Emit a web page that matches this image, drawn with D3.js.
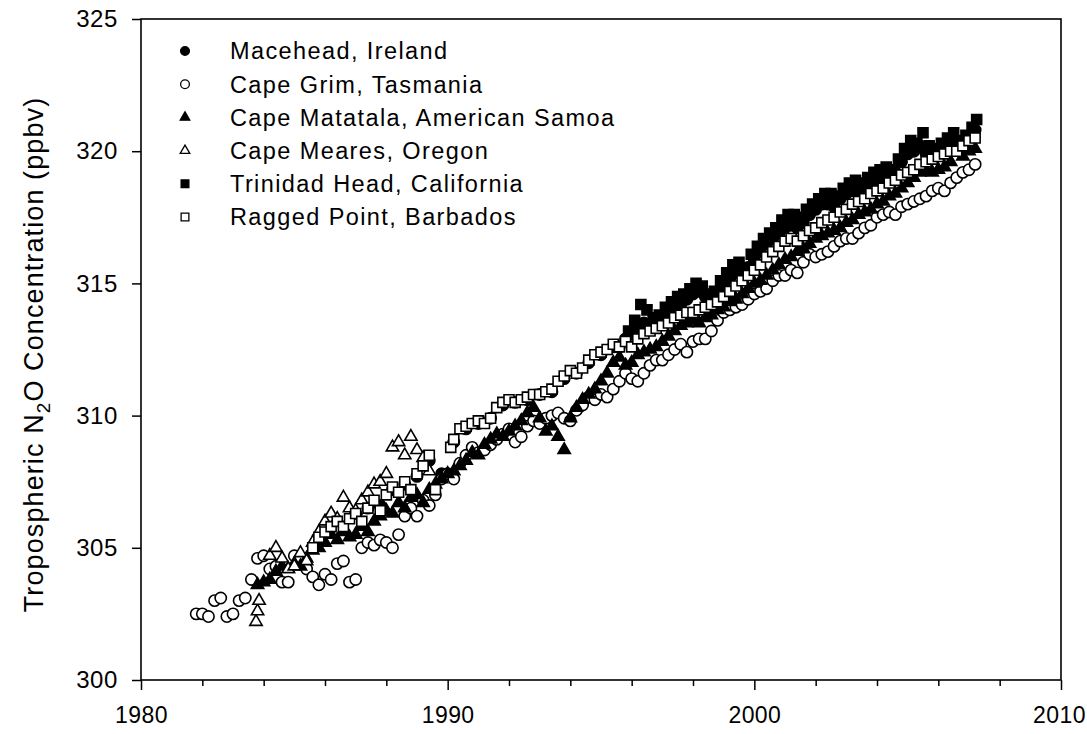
<!DOCTYPE html>
<html>
<head>
<meta charset="utf-8">
<script src="https://cdn.jsdelivr.net/npm/d3@7"></script>
<style>
  body { margin: 0; background: #fff; }
  svg { display: block; }
  text { font-family: "Liberation Sans", Arial, sans-serif; fill: #000; }
</style>
</head>
<body>
<svg id="chart"></svg>
<script>
// Tropospheric N2O at six AGAGE / ALE-GAGE stations
// each entry: [decimal year, ppbv]

const maceHead = [
  [1987.0,306.3],[1987.4,306.5],[1987.8,306.6],[1988.2,307.2],[1988.6,307.4],[1989.0,307.7],
  [1989.4,308.3],[1989.8,307.8],[1990.2,309.0],[1990.6,309.5],[1991.0,309.7],[1991.4,309.9],
  [1991.8,310.4],[1992.2,310.5],[1992.6,310.6],[1993.0,310.8],[1993.4,310.9],[1993.8,311.4],
  [1994.2,311.6],[1994.6,312.0],[1995.0,312.3],[1995.4,312.6],
  [1995.6,312.6],[1995.8,312.9],[1996.0,313.1],[1996.2,313.3],[1996.4,313.5],[1996.6,313.4],
  [1996.8,313.5],[1997.0,313.7],[1997.2,313.9],[1997.4,314.0],[1997.6,314.2],[1997.8,314.4],
  [1998.0,314.6],[1998.2,314.7],[1998.4,314.5],[1998.6,314.4],[1998.8,314.6],[1999.0,314.9],
  [1999.2,315.2],[1999.4,315.4],[1999.6,315.3],[1999.8,315.6],[2000.0,315.9],[2000.2,316.2],
  [2000.4,316.5],[2000.6,316.7],[2000.8,316.9],[2001.0,317.1],[2001.2,317.2],[2001.4,317.1],
  [2001.6,317.3],[2001.8,317.6],[2002.0,317.8],[2002.2,318.0],[2002.4,318.0],[2002.6,317.9],
  [2002.8,318.2],[2003.0,318.4],[2003.2,318.5],[2003.4,318.4],[2003.6,318.6],[2003.8,318.8],
  [2004.0,318.9],[2004.2,319.0],[2004.4,318.9],[2004.6,319.2],[2004.8,319.6],[2005.0,319.9],
  [2005.2,320.0],[2005.4,320.2],[2005.6,319.9],[2005.8,319.8],[2006.0,320.0],[2006.2,320.1],
  [2006.4,320.3],[2006.6,320.1],[2006.8,320.2],[2007.0,320.5],[2007.2,320.8]
];

const capeGrim = [
  [1981.8,302.5],[1982.0,302.5],[1982.2,302.4],[1982.4,303.0],[1982.6,303.1],[1982.8,302.4],
  [1983.0,302.5],[1983.2,303.0],[1983.4,303.1],[1983.6,303.8],[1983.8,304.6],
  [1984.0,304.7],[1984.2,304.2],[1984.4,304.3],[1984.6,303.7],[1984.8,303.7],
  [1985.0,304.7],[1985.2,304.6],[1985.4,304.2],[1985.6,303.9],[1985.8,303.6],
  [1986.0,304.0],[1986.2,303.8],[1986.4,304.4],[1986.6,304.5],[1986.8,303.7],
  [1987.0,303.8],[1987.2,305.0],[1987.4,305.2],[1987.6,305.1],[1987.8,305.3],
  [1988.0,305.2],[1988.2,305.0],[1988.4,305.5],[1988.6,306.2],[1988.8,306.5],
  [1989.0,306.2],[1989.2,306.8],[1989.4,306.6],[1989.6,307.0],[1989.8,307.6],
  [1990.0,307.8],[1990.2,307.6],[1990.4,308.2],[1990.6,308.5],[1990.8,308.8],
  [1991.0,308.6],[1991.2,308.7],[1991.4,308.9],[1991.6,309.1],[1991.8,309.3],
  [1992.0,309.5],[1992.2,309.0],[1992.4,309.2],[1992.6,309.6],[1992.8,309.8],
  [1993.0,309.7],[1993.2,309.9],[1993.4,310.0],[1993.6,310.1],[1993.8,309.9],
  [1994.0,309.8],[1994.2,310.2],[1994.4,310.4],[1994.6,310.7],[1994.8,310.6],
  [1995.0,310.8],[1995.2,310.7],[1995.4,311.0],[1995.6,311.3],[1995.8,311.6],
  [1996.0,311.4],[1996.2,311.3],[1996.4,311.6],[1996.6,311.9],[1996.8,312.1],
  [1997.0,312.1],[1997.2,312.3],[1997.4,312.5],[1997.6,312.7],[1997.8,312.4],
  [1998.0,312.8],[1998.2,312.9],[1998.4,312.9],[1998.6,313.2],[1998.8,313.6],
  [1999.0,313.9],[1999.2,314.0],[1999.4,314.1],[1999.6,314.2],[1999.8,314.4],
  [2000.0,314.6],[2000.2,314.7],[2000.4,314.8],[2000.6,315.1],[2000.8,315.3],
  [2001.0,315.3],[2001.2,315.5],[2001.4,315.4],[2001.6,315.8],[2001.8,316.1],
  [2002.0,316.0],[2002.2,316.1],[2002.4,316.2],[2002.6,316.4],[2002.8,316.6],
  [2003.0,316.7],[2003.2,316.7],[2003.4,316.9],[2003.6,317.1],[2003.8,317.2],
  [2004.0,317.5],[2004.2,317.6],[2004.4,317.7],[2004.6,317.6],[2004.8,317.9],
  [2005.0,318.0],[2005.2,318.1],[2005.4,318.2],[2005.6,318.3],[2005.8,318.5],
  [2006.0,318.6],[2006.2,318.5],[2006.4,318.8],[2006.6,319.0],[2006.8,319.2],
  [2007.0,319.3],[2007.2,319.5]
];

const capeMatatala = [
  [1983.8,303.6],[1984.0,303.7],[1984.2,303.8],[1984.4,304.1],[1984.6,304.3],[1984.8,304.2],
  [1985.0,304.4],[1985.2,304.3],[1985.4,304.6],[1985.6,304.9],[1985.8,305.0],
  [1986.0,305.2],[1986.2,305.5],[1986.4,305.3],[1986.6,305.6],[1986.8,305.4],
  [1987.0,305.5],[1987.2,305.8],[1987.4,305.6],[1987.6,306.0],[1987.8,306.2],
  [1988.0,306.4],[1988.2,306.3],[1988.4,306.7],[1988.6,306.5],[1988.8,306.9],
  [1989.0,307.0],[1989.2,306.7],[1989.4,307.2],[1989.6,307.4],[1989.8,307.6],
  [1990.0,307.8],[1990.2,307.9],[1990.4,308.1],[1990.6,308.3],[1990.8,308.6],
  [1991.0,308.5],[1991.2,308.9],[1991.4,309.1],[1991.6,309.3],[1991.8,309.2],
  [1992.0,309.4],[1992.2,309.6],[1992.4,309.8],[1992.6,310.1],[1992.8,310.3],
  [1993.0,309.9],[1993.2,309.4],[1993.4,309.6],[1993.6,309.2],[1993.8,308.7],
  [1994.0,309.9],[1994.2,310.3],[1994.4,310.6],[1994.6,310.8],[1994.8,311.0],
  [1995.0,311.3],[1995.2,311.6],[1995.4,312.0],[1995.6,312.2],[1995.8,311.9],
  [1996.0,312.0],[1996.2,312.3],[1996.4,312.4],[1996.6,312.5],[1996.8,312.6],
  [1997.0,312.8],[1997.2,313.0],[1997.4,313.2],[1997.6,313.4],[1997.8,313.5],
  [1998.0,313.6],[1998.2,313.5],[1998.4,313.7],[1998.6,313.8],[1998.8,314.0],
  [1999.0,314.1],[1999.2,314.3],[1999.4,314.4],[1999.6,314.6],[1999.8,314.8],
  [2000.0,315.0],[2000.2,315.1],[2000.4,315.3],[2000.6,315.5],[2000.8,315.7],
  [2001.0,315.9],[2001.2,316.0],[2001.4,316.2],[2001.6,316.3],[2001.8,316.5],
  [2002.0,316.7],[2002.2,316.8],[2002.4,316.9],[2002.6,317.0],[2002.8,317.1],
  [2003.0,317.3],[2003.2,317.4],[2003.4,317.6],[2003.6,317.7],[2003.8,317.8],
  [2004.0,318.0],[2004.2,318.1],[2004.4,318.3],[2004.6,318.4],[2004.8,318.6],
  [2005.0,318.8],[2005.2,319.0],[2005.4,319.2],[2005.6,319.3],[2005.8,319.2],
  [2006.0,319.3],[2006.2,319.4],[2006.4,319.6],[2006.8,319.8],[2007.0,320.0],[2007.2,320.1]
];

const capeMeares = [
  [1983.75,302.2],[1983.8,302.6],[1983.85,303.0],[1984.2,304.7],[1984.4,305.0],[1984.6,304.6],
  [1984.8,304.2],[1985.0,304.3],[1985.2,304.8],[1985.4,304.5],[1985.6,305.2],[1985.8,305.6],
  [1986.0,306.0],[1986.2,306.3],[1986.4,306.1],[1986.6,306.9],[1986.8,306.5],[1987.0,306.4],
  [1987.2,306.8],[1987.4,307.1],[1987.6,307.4],[1987.8,307.5],[1988.0,307.8],[1988.2,308.8],
  [1988.4,309.0],[1988.6,308.5],[1988.8,309.2],[1989.0,308.7],[1989.2,308.4],[1989.4,307.9]
];

const trinidadHead = [
  [1995.9,313.2],[1996.1,313.6],[1996.3,314.2],[1996.5,314.0],[1996.7,313.7],[1996.9,313.8],
  [1997.1,314.1],[1997.3,314.3],[1997.5,314.5],[1997.7,314.6],[1997.9,314.8],[1998.1,315.0],
  [1998.3,314.9],[1998.5,314.6],[1998.7,314.7],[1998.9,315.1],[1999.1,315.4],[1999.3,315.7],
  [1999.5,315.8],[1999.7,315.6],[1999.9,316.1],[2000.1,316.4],[2000.3,316.7],[2000.5,316.9],
  [2000.7,317.1],[2000.9,317.4],[2001.1,317.6],[2001.3,317.6],[2001.5,317.5],[2001.7,317.8],
  [2001.9,318.0],[2002.1,318.2],[2002.3,318.4],[2002.5,318.4],[2002.7,318.3],[2002.9,318.6],
  [2003.1,318.8],[2003.3,318.9],[2003.5,318.8],[2003.7,319.0],[2003.9,319.2],[2004.1,319.3],
  [2004.3,319.4],[2004.5,319.3],[2004.7,319.7],[2004.9,320.1],[2005.1,320.4],[2005.3,320.3],
  [2005.5,320.7],[2005.7,320.2],[2005.9,320.1],[2006.1,320.3],[2006.3,320.5],[2006.5,320.7],
  [2006.7,320.4],[2006.9,320.6],[2007.1,320.9],[2007.25,321.2]
];

const raggedPoint = [
  [1985.6,305.0],[1985.8,305.4],[1986.0,305.6],[1986.2,305.8],[1986.4,306.0],[1986.6,305.8],
  [1986.8,306.1],[1987.0,306.3],[1987.2,306.0],[1987.4,306.5],[1987.6,306.8],[1987.8,306.4],
  [1988.0,307.0],[1988.2,307.3],[1988.4,307.1],[1988.6,307.5],[1988.8,307.2],[1989.0,307.8],
  [1989.2,308.1],[1989.4,308.5],[1989.6,307.2],
  [1990.1,308.8],[1990.2,309.1],[1990.4,309.5],[1990.6,309.6],[1990.8,309.7],[1991.0,309.8],
  [1991.2,309.7],[1991.4,309.9],[1991.6,310.3],[1991.8,310.5],[1992.0,310.6],[1992.2,310.5],
  [1992.4,310.6],[1992.6,310.7],[1992.8,310.8],[1993.0,310.8],[1993.2,310.9],[1993.4,311.0],
  [1993.6,311.3],[1993.8,311.5],[1994.0,311.7],[1994.2,311.6],[1994.4,311.8],[1994.6,312.1],
  [1994.8,312.3],[1995.0,312.4],[1995.2,312.5],[1995.4,312.7],[1995.6,312.6],[1995.8,312.8],
  [1996.0,312.6],[1996.2,312.9],[1996.4,313.1],[1996.6,313.2],[1996.8,313.3],[1997.0,313.4],
  [1997.2,313.5],[1997.4,313.7],[1997.6,313.8],[1997.8,313.9],[1998.0,313.9],[1998.2,314.0],
  [1998.4,314.1],[1998.6,314.2],[1998.8,314.3],[1999.0,314.5],[1999.2,314.7],[1999.4,314.9],
  [1999.6,315.1],[1999.8,315.3],[2000.0,315.5],[2000.2,315.7],[2000.4,316.0],[2000.6,316.2],
  [2000.8,316.4],[2001.0,316.6],[2001.2,316.7],[2001.4,316.6],[2001.6,316.8],[2001.8,317.0],
  [2002.0,317.1],[2002.2,317.3],[2002.4,317.4],[2002.6,317.5],[2002.8,317.7],[2003.0,317.8],
  [2003.2,318.0],[2003.4,318.1],[2003.6,318.2],[2003.8,318.4],[2004.0,318.5],[2004.2,318.6],
  [2004.4,318.8],[2004.6,318.9],[2004.8,319.1],[2005.0,319.2],[2005.2,319.3],[2005.4,319.5],
  [2005.6,319.6],[2005.8,319.7],[2006.0,319.8],[2006.2,319.9],[2006.4,320.0],[2006.6,320.0],
  [2006.8,320.2],[2007.0,320.4],[2007.2,320.5]
];

const stationNames = [
  'Macehead, Ireland',
  'Cape Grim, Tasmania',
  'Cape Matatala, American Samoa',
  'Cape Meares, Oregon',
  'Trinidad Head, California',
  'Ragged Point, Barbados'
];

const majorYears = [1980, 1990, 2000, 2010];
const minorYears = [1982, 1984, 1986, 1988, 1992, 1994, 1996, 1998, 2002, 2004, 2006, 2008];
const ppbTicks = [300, 305, 310, 315, 320, 325];

// ---- layout ----
const width = 1087, height = 734;
const margin = { top: 19, right: 26, bottom: 54, left: 141 };

const x = d3.scaleLinear().domain([1980, 2010]).range([margin.left, width - margin.right]);
const y = d3.scaleLinear().domain([300, 325]).range([height - margin.bottom, margin.top]);

const svg = d3.select('#chart').attr('width', width).attr('height', height);

// marker styles, in legend order
const markers = [
  { type: d3.symbolCircle,   size: 100, filled: true },
  { type: d3.symbolCircle,   size: 100, filled: false },
  { type: d3.symbolTriangle, size: 66,  filled: true },
  { type: d3.symbolTriangle, size: 66,  filled: false },
  { type: d3.symbolSquare,   size: 100, filled: true },
  { type: d3.symbolSquare,   size: 100, filled: false }
];

const series = [maceHead, capeGrim, capeMatatala, capeMeares, trinidadHead, raggedPoint]
  .map((values, i) => ({ name: stationNames[i], values, style: markers[i] }));

// ---- points ----
const plot = svg.append('g');
series.forEach(s => {
  const sym = d3.symbol().type(s.style.type).size(s.style.size);
  plot.append('g')
    .selectAll('path')
    .data(s.values)
    .join('path')
      .attr('transform', d => `translate(${x(d[0])},${y(d[1])})`)
      .attr('d', sym)
      .attr('fill', s.style.filled ? '#000' : '#fff')
      .attr('stroke', '#000')
      .attr('stroke-width', 1.6);
});

// ---- axes ----
svg.append('g')
  .attr('transform', `translate(0,${y(300)})`)
  .call(d3.axisBottom(x).tickValues(minorYears).tickSize(6).tickFormat(''))
  .call(g => g.select('.domain').remove())
  .call(g => g.selectAll('line').attr('stroke-width', 1.5));

svg.append('g')
  .attr('transform', `translate(0,${y(300)})`)
  .call(d3.axisBottom(x).tickValues(majorYears).tickSize(10).tickPadding(17).tickFormat(d3.format('d')))
  .call(g => g.select('.domain').remove())
  .call(g => g.selectAll('line').attr('stroke-width', 1.5))
  .call(g => g.selectAll('text')
    .attr('font-size', 23).attr('letter-spacing', 0.4)
    .attr('font-family', '"Liberation Sans", Arial, sans-serif'))
  .call(g => g.selectAll('.tick').filter(d => d === 2010).select('text').attr('dx', -2));

svg.append('g')
  .attr('transform', `translate(${x(1980)},0)`)
  .call(d3.axisLeft(y).tickValues(ppbTicks).tickSize(9).tickPadding(14).tickFormat(d3.format('d')))
  .call(g => g.select('.domain').remove())
  .call(g => g.selectAll('line').attr('stroke-width', 1.5))
  .call(g => g.selectAll('text')
    .attr('font-size', 24).attr('letter-spacing', 0.6)
    .attr('font-family', '"Liberation Sans", Arial, sans-serif'));

// frame
svg.append('rect')
  .attr('x', x(1980)).attr('y', y(325))
  .attr('width', x(2010) - x(1980)).attr('height', y(300) - y(325))
  .attr('fill', 'none').attr('stroke', '#000').attr('stroke-width', 1.6);

// ---- y title ----
const title = svg.append('text')
  .attr('transform', `translate(43,${(y(300) + y(325)) / 2 + 5}) rotate(-90)`)
  .attr('text-anchor', 'middle')
  .attr('font-size', 27)
  .attr('letter-spacing', 1.1);
title.append('tspan').text('Tropospheric N');
title.append('tspan').text('2').attr('font-size', 19).attr('dy', 7);
title.append('tspan').text('O Concentration (ppbv)').attr('dy', -7);

// ---- legend ----
const legend = svg.append('g')
  .selectAll('g')
  .data(series)
  .join('g')
    .attr('transform', (d, i) => `translate(185,${51 + i * 33.2})`);

legend.append('path')
  .attr('d', d => d3.symbol().type(d.style.type).size(d.style.size * 0.6)())
  .attr('fill', d => d.style.filled ? '#000' : '#fff')
  .attr('stroke', '#000')
  .attr('stroke-width', 1.3);

legend.append('text')
  .attr('x', 45)
  .attr('dy', '0.36em')
  .attr('font-size', 23.5)
  .attr('letter-spacing', 1.4)
  .text(d => d.name);
</script>
</body>
</html>
